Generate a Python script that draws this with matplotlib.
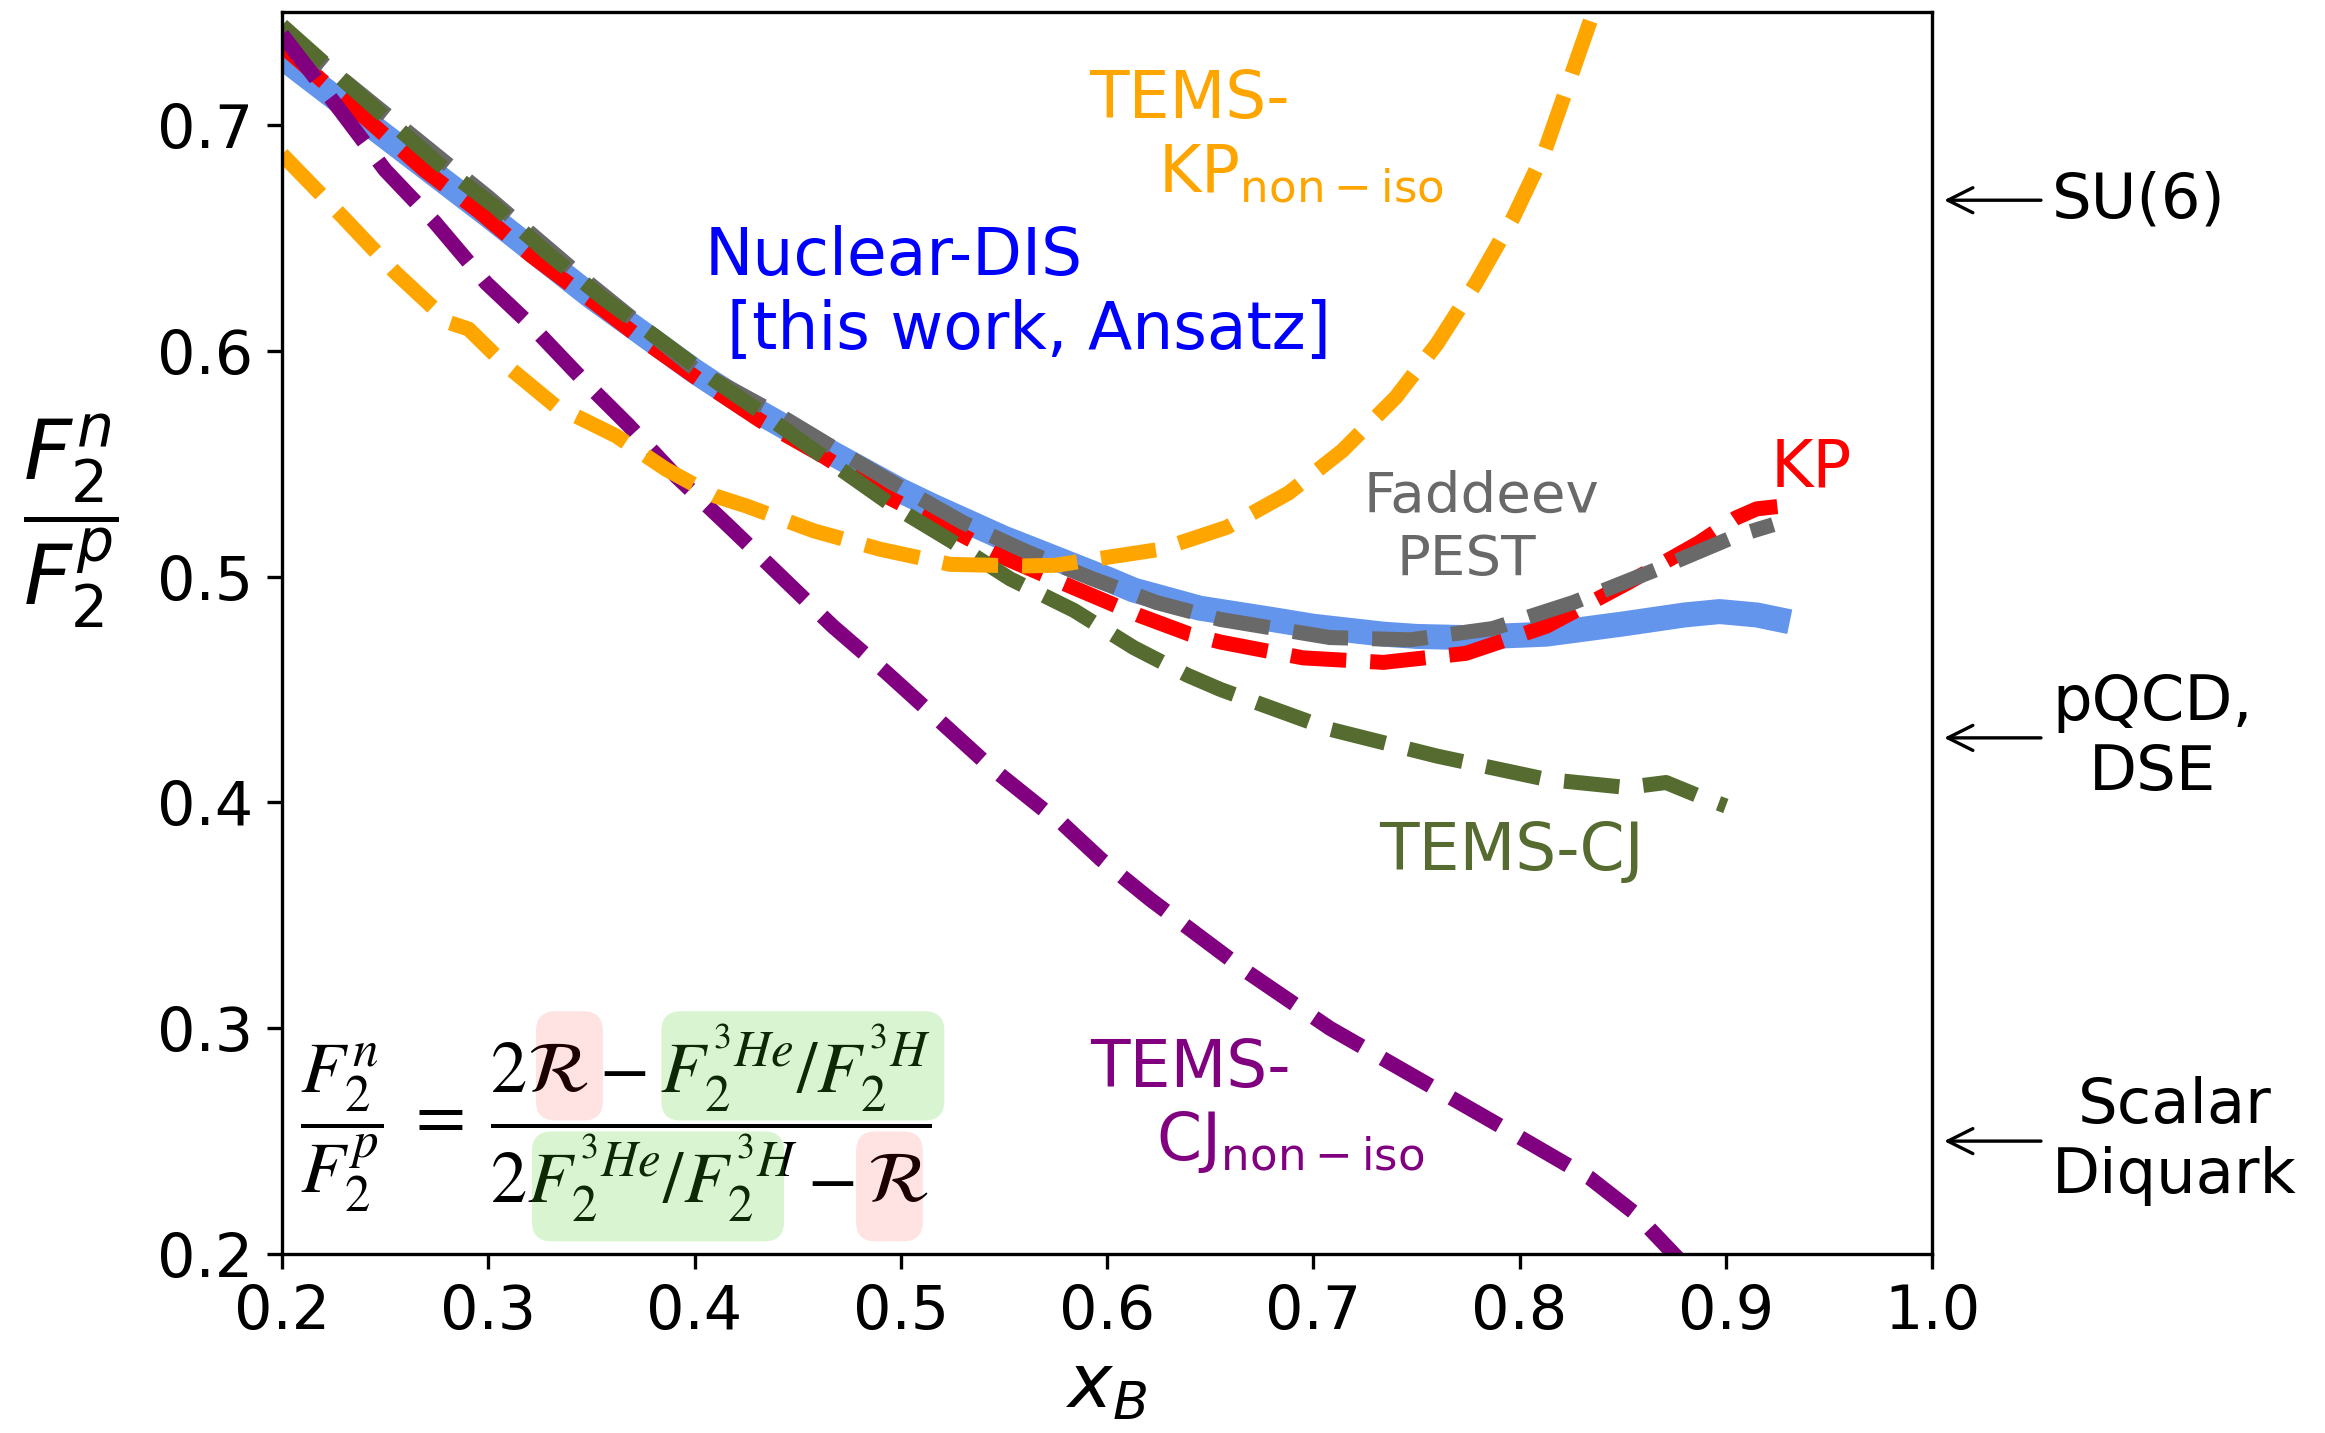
import matplotlib
matplotlib.use('Agg')
import matplotlib.pyplot as plt
import matplotlib.transforms as mtransforms
from matplotlib.patches import FancyBboxPatch

# Nuclear-DIS [this work, Ansatz]
x_dis = [0.20, 0.25, 0.30, 0.35, 0.40, 0.425, 0.454, 0.50, 0.516, 0.55, 0.564, 0.60, 0.613, 0.645,
         0.68, 0.70, 0.734, 0.75, 0.773, 0.80, 0.813, 0.85, 0.865, 0.88, 0.897, 0.915, 0.931]
y_dis = [0.730, 0.695, 0.660, 0.624, 0.591, 0.576, 0.561, 0.538, 0.531, 0.517, 0.512, 0.499, 0.494,
         0.486, 0.481, 0.478, 0.4745, 0.4735, 0.473, 0.474, 0.4745, 0.479, 0.481, 0.483, 0.4845,
         0.483, 0.480]

# KP
x_kp = [0.20, 0.243, 0.269, 0.295, 0.321, 0.349, 0.376, 0.404, 0.432, 0.463, 0.492, 0.522, 0.551,
        0.584, 0.615, 0.640, 0.655, 0.695, 0.734, 0.774, 0.813, 0.852, 0.887, 0.905, 0.915, 0.925]
y_kp = [0.735, 0.701, 0.680, 0.662, 0.642, 0.623, 0.604, 0.586, 0.569, 0.553, 0.536, 0.522, 0.508,
        0.495, 0.483, 0.4745, 0.471, 0.464, 0.462, 0.466, 0.478, 0.497, 0.515, 0.526, 0.530, 0.531]

# Faddeev PEST
x_pest = [0.20, 0.25, 0.30, 0.35, 0.40, 0.442, 0.471, 0.501, 0.530, 0.561, 0.593, 0.624, 0.655,
          0.708, 0.747, 0.787, 0.826, 0.866, 0.905, 0.923]
y_pest = [0.742, 0.705, 0.668, 0.629, 0.592, 0.571, 0.555, 0.539, 0.524, 0.511, 0.499, 0.4885,
          0.481, 0.473, 0.472, 0.477, 0.4885, 0.503, 0.518, 0.523]

# TEMS-CJ
x_cj = [0.20, 0.248, 0.277, 0.303, 0.329, 0.356, 0.383, 0.411, 0.435, 0.467, 0.495, 0.524, 0.553,
        0.584, 0.613, 0.639, 0.655, 0.708, 0.76, 0.813, 0.852, 0.871, 0.887, 0.90]
y_cj = [0.744, 0.705, 0.682, 0.664, 0.643, 0.623, 0.605, 0.586, 0.571, 0.550, 0.532, 0.516, 0.499,
        0.485, 0.4685, 0.4563, 0.450, 0.4324, 0.4205, 0.4102, 0.4066, 0.4088, 0.4028, 0.3984]

# TEMS-CJ non-iso
x_cj_ni = [0.20, 0.229, 0.250, 0.274, 0.299, 0.321, 0.346, 0.368, 0.391, 0.417, 0.442, 0.467,
           0.493, 0.518, 0.543, 0.571, 0.577, 0.597, 0.621, 0.667, 0.708, 0.750, 0.792, 0.834,
           0.856, 0.880]
y_cj_ni = [0.740, 0.7055, 0.680, 0.657, 0.630, 0.611, 0.587, 0.567, 0.5445, 0.522, 0.500, 0.478,
           0.4575, 0.4368, 0.416, 0.3955, 0.3918, 0.3748, 0.357, 0.3255, 0.300, 0.278, 0.256,
           0.2337, 0.218, 0.195]

# TEMS-KP non-iso
x_kp_ni = [0.20, 0.229, 0.255, 0.281, 0.2905, 0.307, 0.3325, 0.362, 0.386, 0.410, 0.425, 0.458,
           0.490, 0.524, 0.559, 0.575, 0.592, 0.626, 0.658, 0.688, 0.714, 0.740, 0.760, 0.779,
           0.797, 0.812, 0.825, 0.836, 0.842]
y_kp_ni = [0.687, 0.6597, 0.6346, 0.6125, 0.6096, 0.5948, 0.5756, 0.5623, 0.5476, 0.5357, 0.5313,
           0.5202, 0.5121, 0.5054, 0.5047, 0.505, 0.5074, 0.5121, 0.5218, 0.537, 0.5557, 0.5794,
           0.6031, 0.6302, 0.6591, 0.6879, 0.7218, 0.7506, 0.768]

# theory limits shown on the right
limit_values = [2 / 3, 3 / 7, 1 / 4]
limit_labels = ['SU(6)', 'pQCD,\nDSE', 'Scalar\nDiquark']

x_ticks = [0.2, 0.3, 0.4, 0.5, 0.6, 0.7, 0.8, 0.9, 1.0]
y_ticks = [0.2, 0.3, 0.4, 0.5, 0.6, 0.7]

fig = plt.figure(figsize=(7.75, 1433 / 300), dpi=300)
ax = fig.add_axes([0.1213, 0.1249, 0.7097, 0.8667])

lw = 3.6
ax.plot(x_dis, y_dis, color='cornflowerblue', lw=6.0, solid_capstyle='butt')
ax.plot(x_kp, y_kp, color='red', lw=lw, ls='--')
ax.plot(x_pest, y_pest, color='dimgray', lw=lw, ls='--')
ax.plot(x_cj, y_cj, color='darkolivegreen', lw=lw, ls='--')
ax.plot(x_cj_ni, y_cj_ni, color='purple', lw=lw, ls='--')
ax.plot(x_kp_ni, y_kp_ni, color='orange', lw=lw, ls='--')

ax.set_xlim(0.2, 1.0)
ax.set_ylim(0.2, 0.75)
ax.set_xticks(x_ticks)
ax.set_yticks(y_ticks)
ax.tick_params(labelsize=14.5)

ax.set_xlabel('$x_B$', fontsize=18, labelpad=2)
ax.set_ylabel(r'$\dfrac{F_2^n}{F_2^p}$', fontsize=20, rotation=0, ha='center', va='center')
ax.yaxis.set_label_coords(-0.128, 0.59)

# curve labels
fs = 15.5
ax.text(0.640, 0.7031, 'TEMS-', color='orange', fontsize=fs, ha='center', va='baseline')
ax.text(0.6938, 0.670, r'KP$_{\mathrm{non-iso}}$', color='orange', fontsize=fs, ha='center', va='baseline')
ax.text(0.4965, 0.6337, 'Nuclear-DIS', color='blue', fontsize=fs, ha='center', va='baseline')
ax.text(0.5619, 0.6006, '[this work, Ansatz]', color='blue', fontsize=fs, ha='center', va='baseline')
ax.text(0.7814, 0.5286, 'Faddeev', color='dimgray', fontsize=13.5, ha='center', va='baseline')
ax.text(0.7741, 0.5006, 'PEST', color='dimgray', fontsize=13.5, ha='center', va='baseline')
ax.text(0.9416, 0.5401, 'KP', color='red', fontsize=fs, ha='center', va='baseline')
ax.text(0.796, 0.370, 'TEMS-CJ', color='darkolivegreen', fontsize=fs, ha='center', va='baseline')
ax.text(0.6402, 0.274, 'TEMS-', color='purple', fontsize=fs, ha='center', va='baseline')
ax.text(0.6889, 0.2416, r'CJ$_{\mathrm{non-iso}}$', color='purple', fontsize=fs, ha='center', va='baseline')

# extraction formula with highlighted pieces
ax.text(0.362, 0.258,
        r'$\dfrac{F_2^n}{F_2^p}\;=\;\dfrac{2\mathcal{R} - F_2^{^3He}/F_2^{^3H}}{2F_2^{^3He}/F_2^{^3H} - \mathcal{R}}$',
        fontsize=17.5, ha='center', va='center', math_fontfamily='stix', zorder=5)

boxes = [((0.3231, 0.2591), 0.0325, 0.0484, 'pink'),
         ((0.3839, 0.2591), 0.1372, 0.0484, 'green'),
         ((0.3212, 0.2056), 0.1222, 0.0487, 'green'),
         ((0.4783, 0.2056), 0.0324, 0.0487, 'pink')]
for (bx, by), bw, bh, kind in boxes:
    fc = (1.0, 0.0, 0.0) if kind == 'pink' else (0.25, 0.8, 0.1)
    al = 0.11 if kind == 'pink' else 0.2
    p = FancyBboxPatch((bx, by), bw, bh, boxstyle='round,pad=0,rounding_size=0.0095',
                       mutation_aspect=0.9134, facecolor=fc, edgecolor='none', alpha=al, zorder=6)
    ax.add_patch(p)

# arrows to theoretical limits
trans = mtransforms.blended_transform_factory(ax.transAxes, ax.transData)
for v, lab in zip(limit_values, limit_labels):
    ax.annotate('', xy=(1.0073, v), xycoords=trans, xytext=(1.066, v), textcoords=trans,
                arrowprops=dict(arrowstyle='->', lw=0.8, color='black', mutation_scale=15,
                                shrinkA=0, shrinkB=0),
                annotation_clip=False)
    ax.text(1.0727, v, lab, transform=trans, fontsize=15, ha='left', va='center',
            multialignment='center')

fig.savefig('out.png', dpi=300)
